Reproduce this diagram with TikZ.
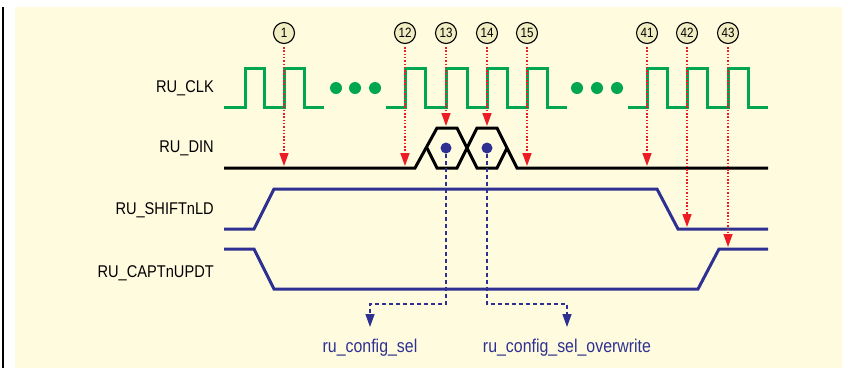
\documentclass[tikz,border=0pt]{standalone}
\usepackage{fontspec}
\setmainfont{Liberation Sans}[FakeStretch=0.86]
\usetikzlibrary{arrows.meta}
\definecolor{cream}{HTML}{FFFBDF}
\definecolor{clkgreen}{HTML}{00A651}
\definecolor{navy}{HTML}{2E3192}
\definecolor{redarr}{HTML}{ED1C24}
\definecolor{circfill}{HTML}{EFEDC2}
\tikzset{
  clk/.style={draw=clkgreen, line width=3pt},
  sig/.style={draw=navy, line width=3pt},
  din/.style={draw=black, line width=3pt},
  lbl/.style={anchor=east, font=\fontsize{17}{19}\selectfont, inner sep=0pt},
  num/.style={circle, draw=black, line width=1.1pt, fill=circfill, minimum size=21pt, inner sep=0pt, font=\fontsize{13.5}{14}\selectfont},
  redarrow/.style={draw=redarr, line width=1.5pt, dash pattern=on 1.5pt off 1.8pt, -{Triangle[length=13pt,width=9pt]}},
  bluearrow/.style={draw=navy, line width=1.4pt, dash pattern=on 4pt off 3pt, -{Triangle[length=13pt,width=9pt]}},
  gdot/.style={circle, fill=clkgreen, minimum size=12pt, inner sep=0pt},
  bdot/.style={circle, fill=navy, minimum size=11pt, inner sep=0pt},
  outlbl/.style={text=navy, font=\fontsize{18.5}{20}\selectfont, inner sep=0pt}
}
\begin{document}
\begin{tikzpicture}[x=1pt,y=-1pt]
\useasboundingbox (0,0) rectangle (842,368);
\fill[cream] (15,7) rectangle (842,368);
\draw[line width=2.2pt] (3,7) -- (3,368);

% labels
\node[lbl] (lclk) at (214,88) {RU\_CLK};
\node[lbl] (ldin) at (214,148) {RU\_DIN};
\node[lbl] (lshift) at (214,210) {RU\_SHIFTnLD};
\node[lbl] (lcapt) at (214,273) {RU\_CAPTnUPDT};

% clock
\draw[clk] (224,107) -- (245,107) -- (245,68) -- (264,68) -- (264,107) -- (284,107) -- (284,68) -- (304,68) -- (304,107) -- (324,107);
\draw[clk] (386,107) -- (405,107) -- (405,68) -- (425,68) -- (425,107) -- (446,107) -- (446,68) -- (467,68) -- (467,107) -- (487,107) -- (487,68) -- (507,68) -- (507,107) -- (527,107) -- (527,68) -- (547,68) -- (547,107) -- (567,107);
\draw[clk] (628,107) -- (647,107) -- (647,68) -- (667,68) -- (667,107) -- (687,107) -- (687,68) -- (707,68) -- (707,107) -- (728,107) -- (728,68) -- (748,68) -- (748,107) -- (768,107);
\node[gdot] (g1) at (336,88) {};
\node[gdot] (g2) at (355,88) {};
\node[gdot] (g3) at (375,88) {};
\node[gdot] (g4) at (577,88) {};
\node[gdot] (g5) at (597,88) {};
\node[gdot] (g6) at (617,88) {};

% DIN
\draw[din, line join=miter] (224,168) -- (415,168) -- (437,128) -- (457,128) -- (477,168) -- (497,168) -- (507,148);
\draw[din, line join=miter] (427,148) -- (437,168) -- (457,168) -- (477,128) -- (497,128) -- (517,168) -- (768,168);

% SHIFTnLD and CAPTnUPDT
\draw[sig] (224,229) -- (254,229) -- (274,189) -- (657,189) -- (678,229) -- (768,229);
\draw[sig] (224,249) -- (254,249) -- (274,289) -- (698,289) -- (719,249) -- (768,249);

% numbered circles
\node[num] (c1) at (284,33) {1};
\node[num] (c12) at (405,33) {12};
\node[num] (c13) at (446,33) {13};
\node[num] (c14) at (487,33) {14};
\node[num] (c15) at (527,33) {15};
\node[num] (c41) at (647,33) {41};
\node[num] (c42) at (687,33) {42};
\node[num] (c43) at (728,33) {43};

\coordinate (t1) at (284,166);
\coordinate (t12) at (405,166);
\coordinate (t13) at (446,126);
\coordinate (t14) at (487,126);
\coordinate (t15) at (527,166);
\coordinate (t41) at (647,166);
\coordinate (t42) at (687,227);
\coordinate (t43) at (728,247);
\foreach \n in {1,12,13,14,15,41,42,43}{
  \draw[redarrow] ([yshift=-3pt]c\n.south) -- (t\n);
}

% data dots
\node[bdot] (d13) at (446,148) {};
\node[bdot] (d14) at (487,148) {};

% outputs
\node[outlbl] (o1) at (370,348) {ru\_config\_sel};
\node[outlbl] (o2) at (567,348) {ru\_config\_sel\_overwrite};
\draw[bluearrow] (d13.south) -- (446,304) -- (370,304) -- (370,327);
\draw[bluearrow] (d14.south) -- (487,304) -- (567,304) -- (567,327);
\end{tikzpicture}
\end{document}
